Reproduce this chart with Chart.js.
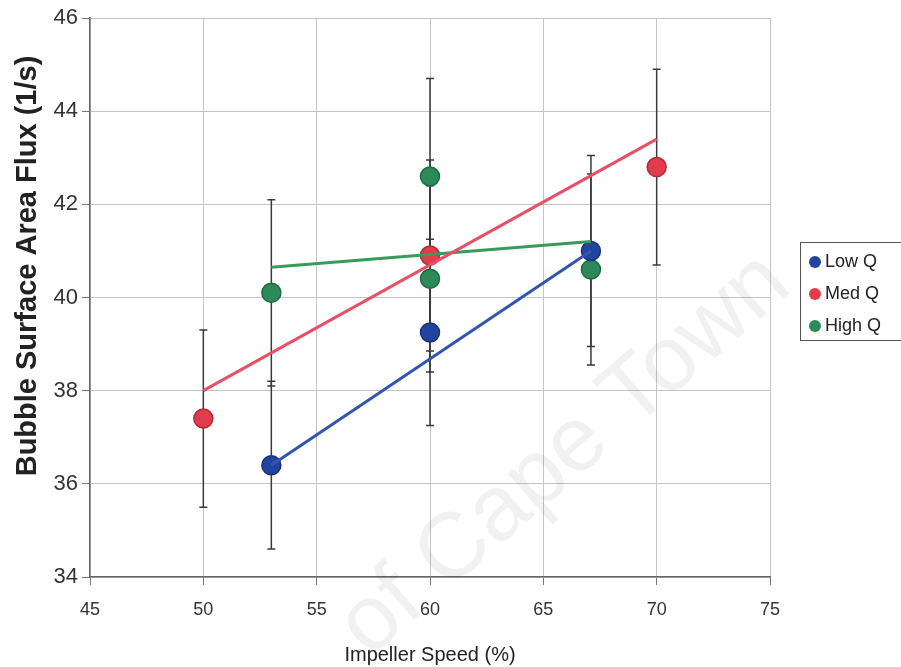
<!DOCTYPE html>
<html>
<head>
<meta charset="utf-8">
<script src="https://cdn.jsdelivr.net/npm/chart.js@4.4.1/dist/chart.umd.min.js"></script>
<style>
  body { margin:0; background:#fff; }
  #c { display:block; }
</style>
</head>
<body>
<canvas id="c" width="901" height="667"></canvas>
<script>
// impeller speed (%) and flux (1/s) per gas rate series
const lowX  = [53, 60, 67.1];
const lowY  = [36.4, 39.25, 41.0];
const lowErr = [1.8, 2.0, 2.05];

const medX  = [50, 60, 70];
const medY  = [37.4, 40.9, 42.8];
const medErr = [1.9, 2.05, 2.1];

const highX = [53, 60, 60, 67.1];
const highY = [40.1, 42.6, 40.4, 40.6];
const highErr = [2.0, 2.1, 2.0, 2.05];

// linear trend line end points
const lowTrendX = [53, 67.1],  lowTrendY = [36.4, 41.0];
const medTrendX = [50, 70],    medTrendY = [38.0, 43.4];
const highTrendX = [53, 67.1], highTrendY = [40.65, 41.2];

const xTicks = [45, 50, 55, 60, 65, 70, 75];
const yTicks = [34, 36, 38, 40, 42, 44, 46];

const seriesNames = ['Low Q', 'Med Q', 'High Q'];
const yTitle = 'Bubble Surface Area Flux (1/s)';
const FONT = '"Liberation Sans", Arial, sans-serif';

const pts = (xs, ys) => xs.map((x, i) => ({x, y: ys[i]}));

function pointSet(label, xs, ys, errs, fill, edge){
    return { label, data: pts(xs, ys), err: errs, showLine:false,
        backgroundColor: fill, borderColor: edge, borderWidth: 1.5,
        pointRadius: 9.5, pointHoverRadius: 9.5, order: 2 };
}
function trendSet(xs, ys, color){
    return { label: '', trend: true, data: pts(xs, ys), showLine: true,
        borderColor: color, borderWidth: 3, pointRadius: 0, fill: false, order: 1 };
}

const errorBars = {
    id: 'errorBars',
    beforeDatasetsDraw(chart){
        const {ctx, scales:{x, y}} = chart;
        ctx.save();
        ctx.strokeStyle = '#3a3a3a';
        ctx.lineWidth = 1.5;
        chart.data.datasets.forEach(ds => {
            if(!ds.err) return;
            ds.data.forEach((p, i) => {
                const px = x.getPixelForValue(p.x);
                const top = y.getPixelForValue(p.y + ds.err[i]);
                const bot = y.getPixelForValue(p.y - ds.err[i]);
                ctx.beginPath();
                ctx.moveTo(px, top); ctx.lineTo(px, bot);
                ctx.moveTo(px - 4, top); ctx.lineTo(px + 4, top);
                ctx.moveTo(px - 4, bot); ctx.lineTo(px + 4, bot);
                ctx.stroke();
            });
        });
        ctx.restore();
    }
};

// faint scan watermark plus the y title (sits a bit above centre in the original)
const extras = {
    id: 'extras',
    afterDraw(chart){
        const ctx = chart.ctx;
        ctx.save();
        ctx.translate(28, 266);
        ctx.rotate(-Math.PI / 2);
        ctx.font = 'bold 29px ' + FONT;
        ctx.fillStyle = '#222';
        ctx.textAlign = 'center';
        ctx.textBaseline = 'middle';
        ctx.fillText(yTitle, 0, 0);
        ctx.restore();

        ctx.save();
        ctx.translate(565, 455);
        ctx.rotate(-41 * Math.PI / 180);
        ctx.font = '92px ' + FONT;
        ctx.fillStyle = 'rgba(0,0,0,0.055)';
        ctx.textAlign = 'center';
        ctx.textBaseline = 'middle';
        ctx.fillText('of Cape Town', 0, 0);
        ctx.restore();
    }
};

const sideLegend = {
    id: 'sideLegend',
    afterDraw(chart){
        const ctx = chart.ctx;
        const items = chart.data.datasets.filter(d => !d.trend);
        ctx.save();
        ctx.strokeStyle = '#555';
        ctx.lineWidth = 1;
        ctx.strokeRect(800.5, 242.5, 110, 98);
        ctx.font = '18px ' + FONT;
        ctx.textBaseline = 'middle';
        items.forEach((d, i) => {
            const cy = 262 + i * 32;
            ctx.beginPath();
            ctx.arc(815, cy, 6, 0, Math.PI * 2);
            ctx.fillStyle = d.backgroundColor;
            ctx.fill();
            ctx.fillStyle = '#222';
            ctx.fillText(d.label, 825, cy);
        });
        ctx.restore();
    }
};

new Chart(document.getElementById('c'), {
    type: 'scatter',
    data: { datasets: [
        pointSet(seriesNames[0], lowX, lowY, lowErr, '#23449e', '#1a3278'),
        pointSet(seriesNames[1], medX, medY, medErr, '#e23b4b', '#b02a38'),
        pointSet(seriesNames[2], highX, highY, highErr, '#2c8a58', '#1f6a42'),
        trendSet(lowTrendX, lowTrendY, '#3355b0'),
        trendSet(medTrendX, medTrendY, '#e8506a'),
        trendSet(highTrendX, highTrendY, '#3a9a5c')
    ]},
    options: {
        responsive: false,
        animation: false,
        layout: { padding: { top: 18, right: 131, left: 0, bottom: 0 } },
        plugins: { legend: { display: false }, tooltip: { enabled: false } },
        scales: {
            x: {
                type: 'linear', min: 45, max: 75,
                afterBuildTicks: s => { s.ticks = xTicks.map(v => ({value: v})); },
                afterFit: s => { s.height = 90; },
                ticks: { color: '#333', font: { family: FONT, size: 18 }, padding: 14 },
                grid: { color: '#c4c4c4', tickLength: 8, tickColor: '#777' },
                border: { color: '#666', width: 1.5 },
                title: { display: true, text: 'Impeller Speed (%)', color: '#222',
                    font: { family: FONT, size: 20 }, padding: { top: 0, bottom: 0 } }
            },
            y: {
                min: 34, max: 46,
                afterBuildTicks: s => { s.ticks = yTicks.map(v => ({value: v})); },
                afterFit: s => { s.width = 90; },
                ticks: { color: '#333', font: { family: FONT, size: 22 }, padding: 4 },
                grid: { color: '#c4c4c4', tickLength: 8, tickColor: '#777' },
                border: { color: '#666', width: 1.5 },
                title: { display: false }
            }
        }
    },
    plugins: [errorBars, extras, sideLegend]
});
</script>
</body>
</html>
